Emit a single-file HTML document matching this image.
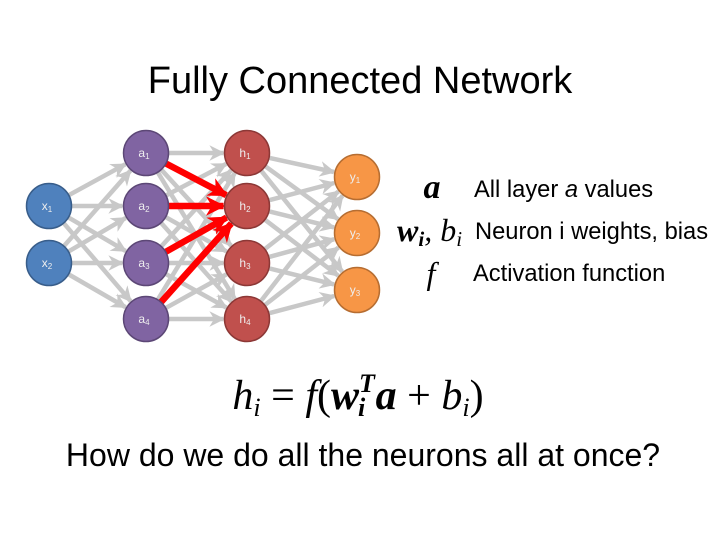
<!DOCTYPE html>
<html><head><meta charset="utf-8"><style>
body{margin:0;background:#fff;width:720px;height:540px;overflow:hidden}
svg{display:block}
text{font-family:"Liberation Sans",sans-serif}
.s{font-family:"Liberation Serif",serif}
</style></head><body>
<svg id="g" width="720" height="540" xmlns="http://www.w3.org/2000/svg">
<defs>
<marker id="ag" viewBox="0 0 10 10" refX="9" refY="5" markerWidth="3.5" markerHeight="3.5" orient="auto" markerUnits="strokeWidth"><path d="M0,0L10,5L0,10L3,5z" fill="#c8c8c8"/></marker>
<marker id="ar" viewBox="0 0 10 10" refX="9" refY="5" markerWidth="3" markerHeight="3" orient="auto" markerUnits="strokeWidth"><path d="M0,0L10,5L0,10L3,5z" fill="#f00"/></marker>
</defs>
<text x="360" y="93" font-size="38" text-anchor="middle" fill="#000">Fully Connected Network</text>
<g id="edges"></g>
<g id="red"></g>
<g id="nodes"></g>
<text x="432" y="198" class="s" font-size="34" font-weight="bold" font-style="italic" text-anchor="middle">a</text>
<text x="474" y="197" font-size="23.7">All layer <tspan font-style="italic">a</tspan> values</text>
<text x="397" y="241" class="s" font-size="32" font-style="italic"><tspan font-weight="bold">w</tspan><tspan font-weight="bold" font-size="21" dy="5">i</tspan><tspan dy="-5">, b</tspan><tspan font-size="21" dy="5">i</tspan></text>
<text x="475" y="239" font-size="23.7">Neuron i weights, bias</text>
<text x="431" y="284" class="s" font-size="32" font-style="italic" text-anchor="middle">f</text>
<text x="473" y="281" font-size="23.7">Activation function</text>
<text x="358" y="409" class="s" font-size="42" font-style="italic" text-anchor="middle">h<tspan font-size="26" dy="7">i</tspan><tspan dy="-7" font-style="normal"> = </tspan>f<tspan font-style="normal">(</tspan><tspan font-weight="bold">w</tspan><tspan font-weight="bold" font-size="26" dy="-17">T</tspan><tspan font-weight="bold" font-size="26" dx="-16" dy="24">i</tspan><tspan dy="-7" font-weight="bold">  a</tspan><tspan font-style="normal"> + </tspan>b<tspan font-size="26" dy="7">i</tspan><tspan dy="-7" font-style="normal">)</tspan></text>
<text x="363" y="466" font-size="32" text-anchor="middle">How do we do all the neurons all at once?</text>
</svg>
<script>
var NS="http://www.w3.org/2000/svg",R=22.5;
var L=[[[49,206],[49,263]],[[146,153],[146,206],[146,263],[146,319]],[[247,153],[247,206],[247,263],[247,319]],[[357,177],[357,233],[357,290]]];
var col=[["#4f81bd","#385d8a"],["#8064a2","#5c4776"],["#c0504d","#8c3836"],["#f79646","#b66d31"]];
var lab=[["x","x"],["a","a","a","a"],["h","h","h","h"],["y","y","y"]];
function ln(g,a,b,c,w,m){var dx=b[0]-a[0],dy=b[1]-a[1],d=Math.hypot(dx,dy),ux=dx/d,uy=dy/d;
var l=document.createElementNS(NS,"line");l.setAttribute("x1",a[0]+ux*R);l.setAttribute("y1",a[1]+uy*R);
l.setAttribute("x2",b[0]-ux*(R+1));l.setAttribute("y2",b[1]-uy*(R+1));l.setAttribute("stroke",c);l.setAttribute("stroke-width",w);l.setAttribute("marker-end","url(#"+m+")");g.appendChild(l);}
var E=document.getElementById("edges"),Rd=document.getElementById("red"),N=document.getElementById("nodes");
for(var i=0;i<3;i++)for(var a of L[i])for(var b of L[i+1])ln(E,a,b,"#c8c8c8",4.5,"ag");
for(var a of L[1])ln(Rd,a,L[2][1],"#f00",6.5,"ar");
for(var i=0;i<4;i++)L[i].forEach(function(p,j){var c=document.createElementNS(NS,"circle");c.setAttribute("cx",p[0]);c.setAttribute("cy",p[1]);c.setAttribute("r",R);c.setAttribute("fill",col[i][0]);c.setAttribute("stroke",col[i][1]);c.setAttribute("stroke-width",1.5);N.appendChild(c);
var t=document.createElementNS(NS,"text");t.setAttribute("x",p[0]-2);t.setAttribute("y",p[1]+4);t.setAttribute("font-size","12");t.setAttribute("fill","#eee");t.setAttribute("text-anchor","middle");t.textContent=lab[i][j];
var s=document.createElementNS(NS,"tspan");s.setAttribute("font-size","8");s.setAttribute("dy","2");s.textContent=String(j+1);t.appendChild(s);N.appendChild(t);});
</script>
</body></html>
